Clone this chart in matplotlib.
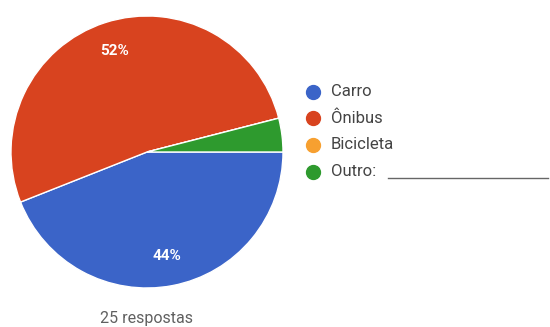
import matplotlib.pyplot as plt
from matplotlib.lines import Line2D

plt.rcParams['font.family'] = ['Roboto', 'DejaVu Sans']

# respostas por meio de transporte
categorias = ['Carro', 'Ônibus', 'Bicicleta', 'Outro:']
respostas = [11, 13, 0, 1]
cores = ['#3b64c8', '#d8431f', '#f7a030', '#2e9a2e']
total = sum(respostas)

W, H = 550, 327
fig = plt.figure(figsize=(W / 100, H / 100), dpi=100)

# eixo do gráfico de pizza: centro (147, 152), raio 136 px
cx, cy, r = 147, 152, 136
ax = fig.add_axes([(cx - r) / W, 1 - (cy + r) / H, 2 * r / W, 2 * r / H])


def rotulo(pct):
    return f'{pct:.0f}%' if pct >= 10 else ''


wedges, texts, autotexts = ax.pie(
    respostas, colors=cores, startangle=0, counterclock=False,
    autopct=rotulo, pctdistance=0.78, radius=1.0,
    wedgeprops=dict(edgecolor='white', linewidth=1.0),
    textprops=dict(color='white', fontsize=11, fontweight='bold'))
ax.set_aspect('equal')
ax.set_xlim(-1, 1)
ax.set_ylim(-1, 1)

fig.text(cx / W, 1 - 318 / H, f'{total} respostas', ha='center', va='center',
         fontsize=11.5, color='#606060')

# legenda com marcadores circulares
y0, passo = 92, 26.5
for i, (nome, cor) in enumerate(zip(categorias, cores)):
    y = 1 - (y0 + i * passo) / H
    fig.add_artist(Line2D([313 / W], [y], marker='o', markersize=10,
                          markerfacecolor=cor, markeredgecolor=cor,
                          linestyle='none'))
    fig.text(331 / W, y, nome, ha='left', va='center', fontsize=12,
             color='#444444')

# linha de resposta do campo "Outro"
y_linha = 1 - (y0 + 3 * passo + 6) / H
fig.add_artist(Line2D([388 / W, 548 / W], [y_linha, y_linha],
                      color='#666666', linewidth=1.0))

fig.savefig('out.png', dpi=100, facecolor='white')
